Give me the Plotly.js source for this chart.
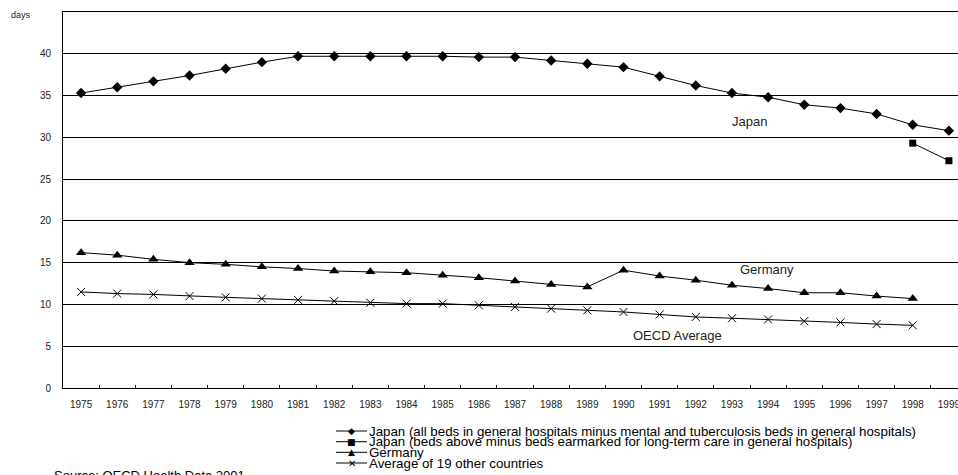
<!DOCTYPE html>
<html>
<head>
<meta charset="utf-8">
<script src="https://cdn.plot.ly/plotly-3.0.1.min.js"></script>
<style>
html,body{margin:0;padding:0;overflow:hidden;background:#fff;width:958px;height:475px;}
#chart{width:975px;height:475px;}
</style>
</head>
<body>
<div id="chart"></div>
<script>
// ---- data ----
const years = ['1975','1976','1977','1978','1979','1980','1981','1982','1983','1984','1985','1986',
  '1987','1988','1989','1990','1991','1992','1993','1994','1995','1996','1997','1998','1999'];
const japanAll = [35.3,36.0,36.7,37.4,38.2,39.0,39.7,39.7,39.7,39.7,39.7,39.6,
  39.6,39.2,38.8,38.4,37.3,36.2,35.3,34.8,33.9,33.5,32.8,31.5,30.8];
const japanLtcYears = ['1998','1999'];
const japanLtc = [29.3,27.2];
const germanyYears = years.slice(0,24);
const germany = [16.2,15.9,15.4,15.0,14.8,14.5,14.3,14.0,13.9,13.8,13.5,13.2,
  12.8,12.4,12.1,14.1,13.4,12.9,12.3,11.9,11.4,11.4,11.0,10.7];
const oecdYears = years.slice(0,24);
const oecdAvg = [11.5,11.3,11.2,11.0,10.85,10.7,10.55,10.4,10.2,10.1,10.1,9.9,
  9.7,9.5,9.3,9.1,8.8,8.5,8.35,8.2,8.0,7.85,7.65,7.5];
const seriesNames = [
  'Japan (all beds in general hospitals minus mental and tuberculosis beds in general hospitals)',
  'Japan (beds above minus beds earmarked for long-term care in general hospitals)',
  'Germany',
  'Average of 19 other countries'
];
const keyGlyphs = ['\u25C6','\u25A0','\u25B2','\u2715'];
const lineLabels = ['Japan','Germany','OECD Average'];
const yTicks = [0,5,10,15,20,25,30,35,40];
const sourceText = 'Source: OECD Health Data 2001.';

// ---- geometry helpers (pixel -> paper) ----
const W = 975, H = 475;
const M = {l:63, r:8, t:12, b:87};
const PW = W - M.l - M.r, PH = H - M.t - M.b;
const px = x => (x - M.l) / PW;
const py = y => (H - M.b - y) / PH;

const FONT = 'Liberation Sans, Arial, sans-serif';
const line = {color:'#000', width:1};

const traces = [
  {x: years, y: japanAll, name: seriesNames[0], type:'scatter', mode:'lines+markers',
   line: line, marker:{symbol:'diamond', size:8, color:'#000'}},
  {x: japanLtcYears, y: japanLtc, name: seriesNames[1], type:'scatter', mode:'lines+markers',
   line: line, marker:{symbol:'square', size:7, color:'#000'}},
  {x: germanyYears, y: germany, name: seriesNames[2], type:'scatter', mode:'lines+markers',
   line: line, marker:{symbol:'triangle-up', size:9, color:'#000'}},
  {x: oecdYears, y: oecdAvg, name: seriesNames[3], type:'scatter', mode:'lines+markers',
   line: line, marker:{symbol:'x-thin-open', size:8, color:'#000', line:{color:'#000', width:1}}}
];

const annotations = [
  {xref:'paper', yref:'paper', x:px(21), y:py(15), text:'days', showarrow:false,
   font:{family:FONT, size:9, color:'#222'}, xanchor:'center', yanchor:'middle'},
  {xref:'paper', yref:'paper', x:px(749), y:py(121), text:lineLabels[0], showarrow:false,
   font:{family:FONT, size:13, color:'#222'}, xanchor:'center', yanchor:'middle'},
  {xref:'paper', yref:'paper', x:px(767), y:py(269), text:lineLabels[1], showarrow:false,
   font:{family:FONT, size:13, color:'#222'}, xanchor:'center', yanchor:'middle'},
  {xref:'paper', yref:'paper', x:px(677), y:py(335), text:lineLabels[2], showarrow:false,
   font:{family:FONT, size:13, color:'#222'}, xanchor:'center', yanchor:'middle'},
  {xref:'paper', yref:'paper', x:px(52), y:py(475), text:sourceText, showarrow:false,
   font:{family:FONT, size:13, color:'#000'}, xanchor:'left', yanchor:'middle'}
];
const shapes = [];
const legendRows = [431, 441.7, 452.3, 463];
seriesNames.forEach((n, i) => {
  const yy = py(legendRows[i]);
  shapes.push({type:'line', xref:'paper', yref:'paper', x0:px(336), x1:px(367), y0:yy, y1:yy,
    line:{color:'#000', width:1}});
  annotations.push({xref:'paper', yref:'paper', x:px(351.5), y:yy, text:keyGlyphs[i], showarrow:false,
    font:{family:'DejaVu Sans', size: i===3 ? 10 : 9, color:'#000'}, xanchor:'center', yanchor:'middle'});
  annotations.push({xref:'paper', yref:'paper', x:px(367), y:yy, text:n, showarrow:false,
    font:{family:FONT, size:13.3, color:'#000'}, xanchor:'left', yanchor:'middle'});
});

const layout = {
  width: W, height: H,
  margin: {l:M.l, r:M.r, t:M.t, b:M.b, pad:0},
  paper_bgcolor:'#fff', plot_bgcolor:'#fff',
  showlegend:false,
  font:{family:FONT, color:'#000'},
  xaxis:{type:'category', categoryorder:'array', categoryarray: years, range:[-0.5, 24.5],
    showgrid:false, zeroline:false, showline:true, linecolor:'#000', linewidth:1, mirror:true,
    ticks:'inside', ticklen:3, tickcolor:'#000', tickson:'boundaries',
    tickfont:{family:FONT, size:10, color:'#222'}, ticklabelstandoff:7, tickangle:0},
  yaxis:{range:[0,45], tickvals: yTicks, showgrid:true, gridcolor:'#000', gridwidth:1,
    zeroline:false, showline:true, linecolor:'#000', linewidth:1, ticks:'',
    tickfont:{family:FONT, size:10, color:'#222'}, ticklabelstandoff:9},
  annotations: annotations,
  shapes: shapes
};

Plotly.newPlot('chart', traces, layout, {staticPlot:true, displayModeBar:false});
</script>
</body>
</html>
